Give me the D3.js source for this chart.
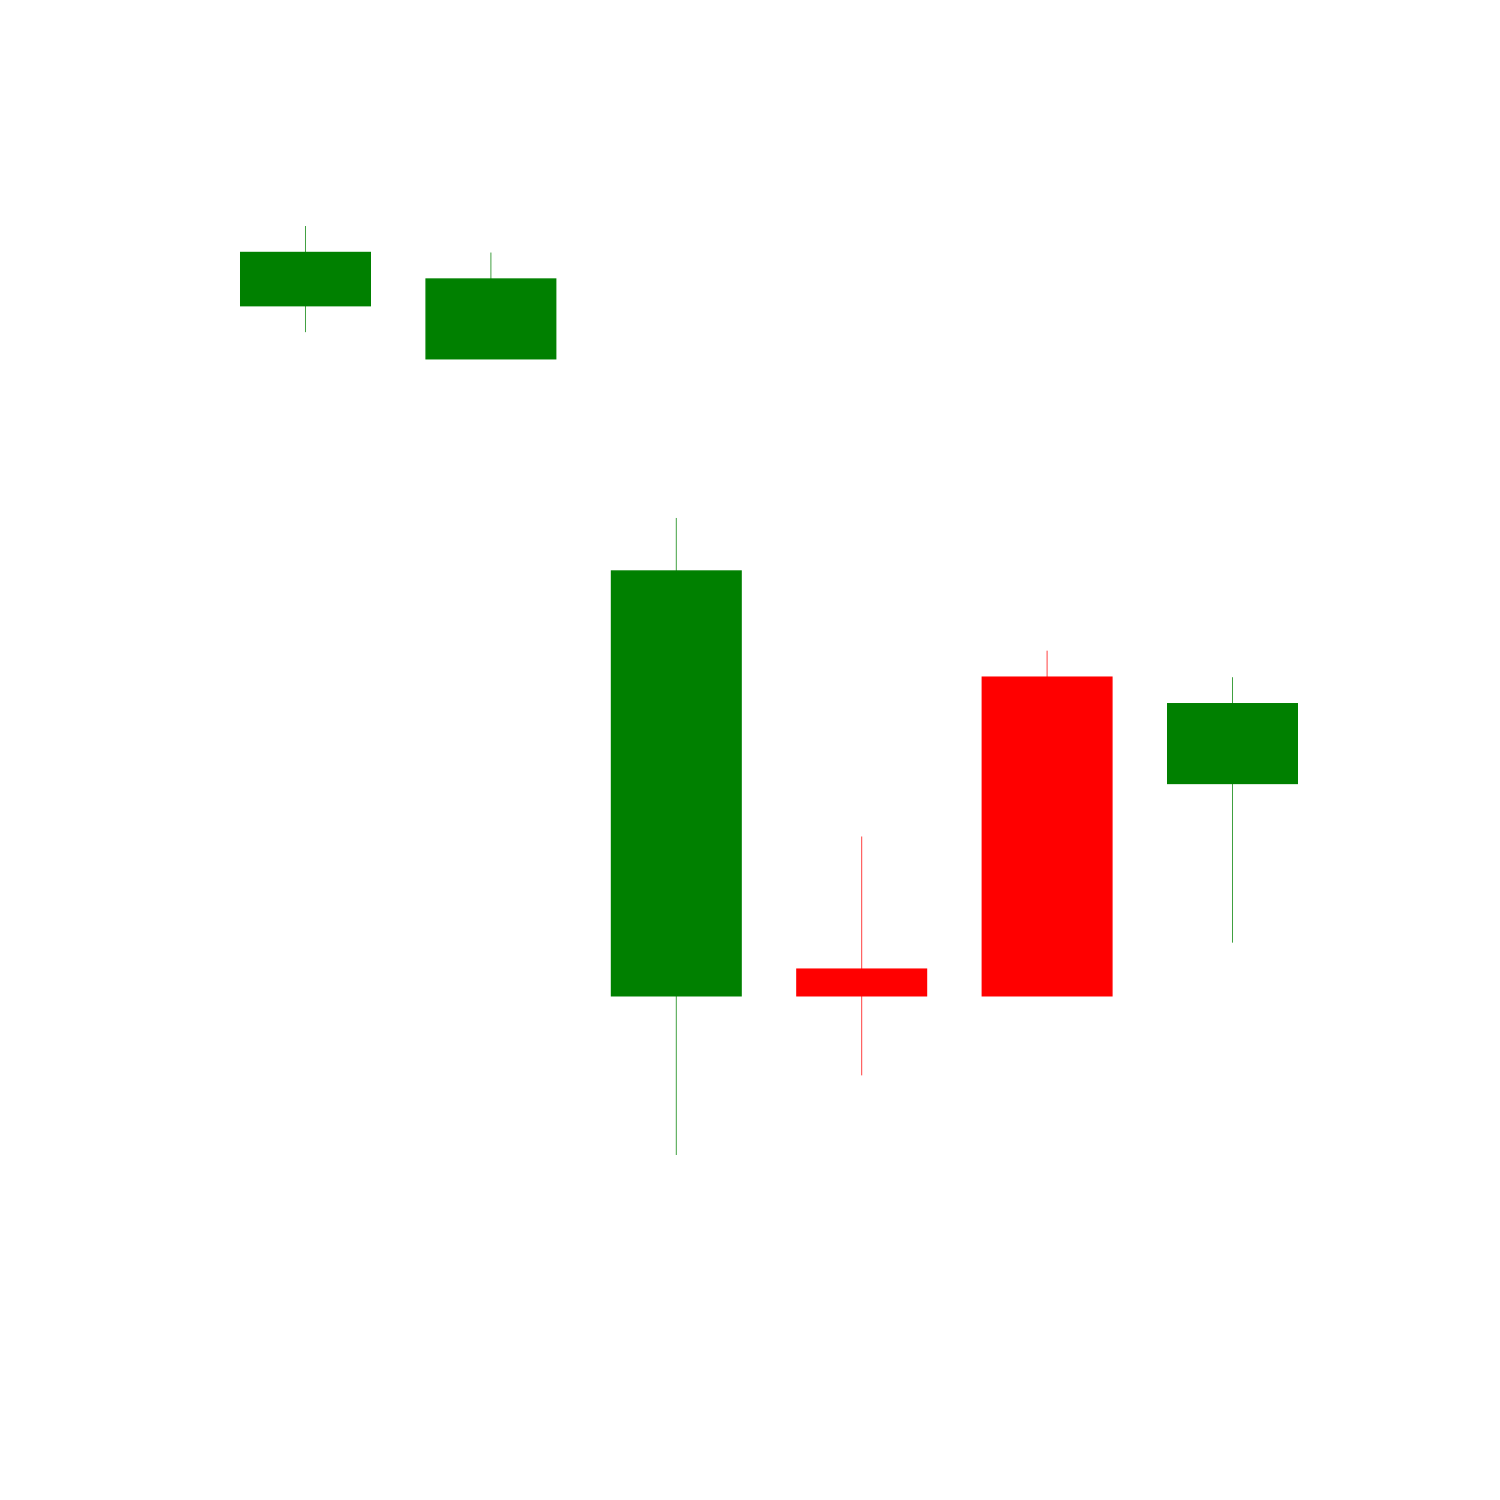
<!DOCTYPE html>
<html>
<head>
<meta charset="utf-8">
<script src="https://cdn.jsdelivr.net/npm/d3@7"></script>
<style>
html, body { margin: 0; padding: 0; background: #fff; }
</style>
</head>
<body>
<svg id="chart" width="1500" height="1500"></svg>
<script>
const days = ["D1", "D2", "D3", "D4", "D5", "D6"];
const opens  = [46, 44, 20, 21, 32, 28];
const closes = [48, 47, 36, 20, 20, 31];
const highs  = [49, 48, 38, 26, 33, 32];
const lows   = [45, 44, 14, 17, 20, 22];

const data = days.map((d, i) => ({ day: d, open: opens[i], close: closes[i], high: highs[i], low: lows[i] }));

const svg = d3.select("#chart");
svg.append("rect").attr("width", 1500).attr("height", 1500).attr("fill", "#fff");

const x = d3.scaleBand().domain(days).range([184.85, 1353.15]).paddingInner(0.3015).paddingOuter(0.3015);
const y = d3.scaleLinear().domain([14, 49]).range([1155, 226]);

const colorOf = d => d.close >= d.open ? "green" : "red";

const g = svg.append("g");

g.selectAll("line.wick").data(data).join("line")
  .attr("class", "wick")
  .attr("x1", d => x(d.day) + x.bandwidth() / 2)
  .attr("x2", d => x(d.day) + x.bandwidth() / 2)
  .attr("y1", d => y(d.high))
  .attr("y2", d => y(d.low))
  .attr("stroke", colorOf)
  .attr("stroke-opacity", 0.75)
  .attr("stroke-width", 1);

g.selectAll("rect.body").data(data).join("rect")
  .attr("class", "body")
  .attr("x", d => x(d.day))
  .attr("width", x.bandwidth())
  .attr("y", d => y(Math.max(d.open, d.close)))
  .attr("height", d => Math.abs(y(d.open) - y(d.close)))
  .attr("fill", colorOf)
  .attr("stroke", colorOf)
  .attr("stroke-width", 1.5);
</script>
</body>
</html>
